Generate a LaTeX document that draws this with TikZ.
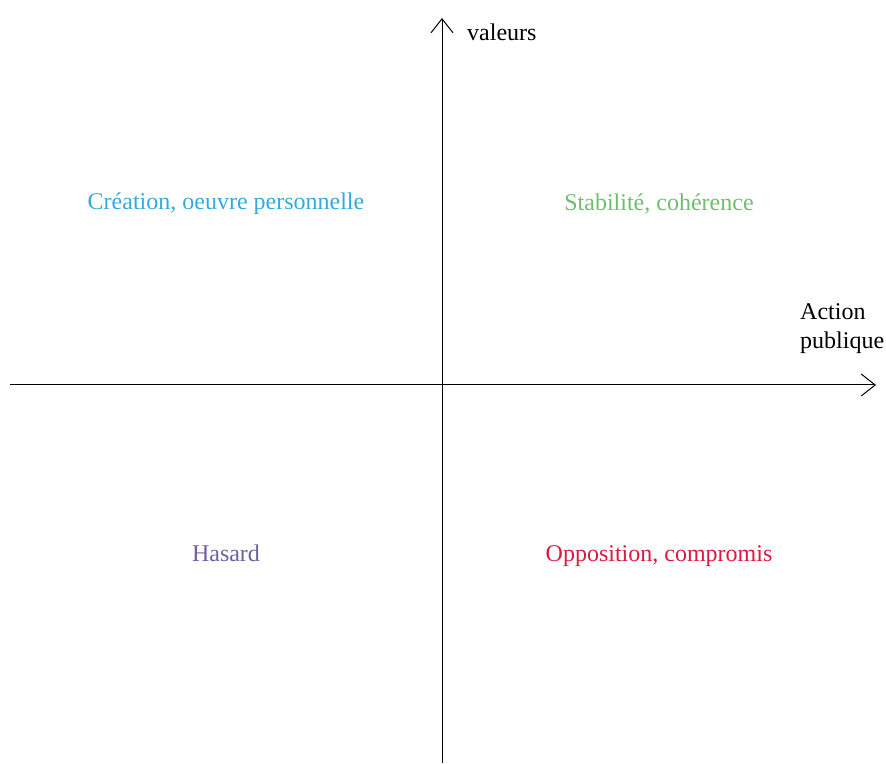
\documentclass[tikz,border=0pt]{standalone}
\usepackage{fontspec}
\setmainfont{Liberation Serif}
\usetikzlibrary{arrows.meta}
\definecolor{cblue}{RGB}{52,170,220}
\definecolor{cgreen}{RGB}{110,190,110}
\definecolor{cpurple}{RGB}{110,95,165}
\definecolor{cred}{RGB}{220,25,65}
\begin{document}
\begin{tikzpicture}[x=1pt,y=1pt,
  axis/.style={line width=1pt,-{Straight Barb[length=14pt,width=22pt,line width=1pt]}},
  lbl/.style={font=\fontsize{24}{29}\selectfont,inner sep=0pt}]
\useasboundingbox (0,0) rectangle (886,763);
\coordinate (ybot) at (442,0);
\coordinate (ytop) at (442,745);
\coordinate (xl) at (10,378);
\coordinate (xr) at (876,378);
\draw[axis] (ybot) -- (ytop);
\draw[axis] (xl) -- (xr);
\node[lbl,anchor=base west] (val) at (467,722) {valeurs};
\node[lbl,anchor=base west,align=left] (act) at (800,414) {Action\\publique};
\node[lbl,text=cblue] (crea) at (226,559) {Création, oeuvre personnelle};
\node[lbl,text=cgreen] (stab) at (659,559) {Stabilité, cohérence};
\node[lbl,text=cpurple] (has) at (226,210) {Hasard};
\node[lbl,text=cred] (opp) at (659,207) {Opposition, compromis};
\end{tikzpicture}
\end{document}
